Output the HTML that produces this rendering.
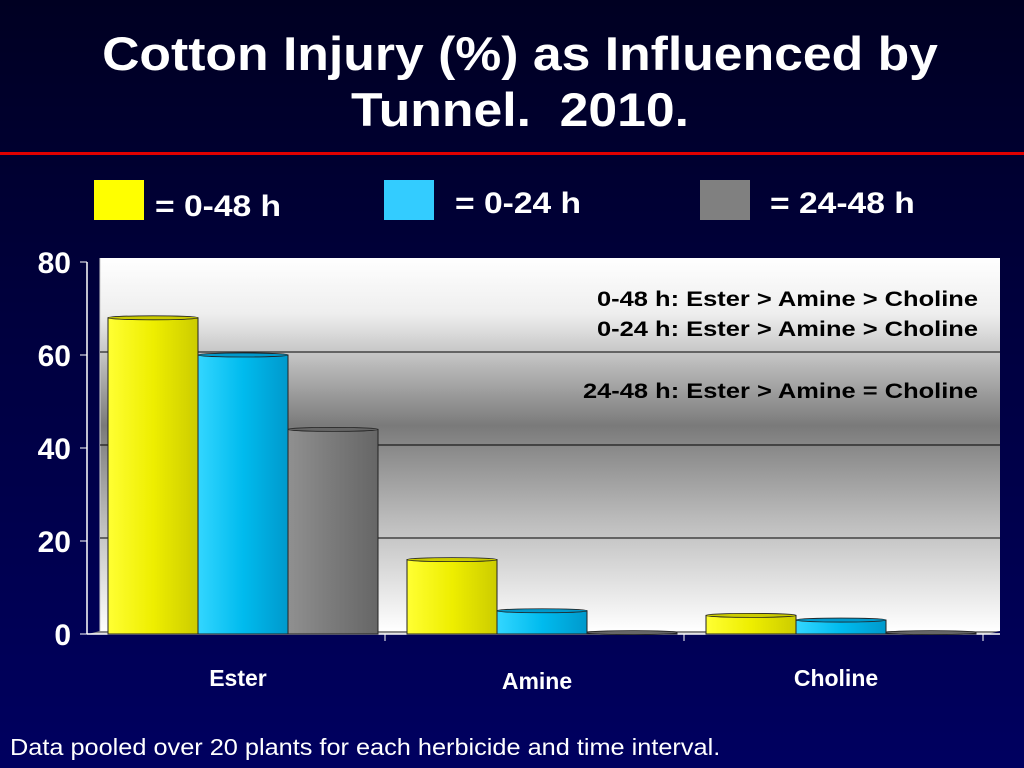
<!DOCTYPE html>
<html><head><meta charset="utf-8">
<style>
body{margin:0;width:1024px;height:768px;overflow:hidden;background:linear-gradient(#000022 0%,#00003d 40%,#000060 100%);font-family:"Liberation Sans",Arial,sans-serif;color:#fff;position:relative}
.title{position:absolute;left:0;width:1040px;top:26px;text-align:center;font-size:47px;font-weight:bold;line-height:56px;transform:scaleX(1.1);transform-origin:520px 0}
.red{position:absolute;left:0;top:152px;width:1024px;height:3px;background:#e00000}
.sw{position:absolute;width:50px;height:40px;top:180px}
.lt{position:absolute;font-size:30px;font-weight:bold;transform:scaleX(1.12);transform-origin:0 0;white-space:nowrap}
.foot{position:absolute;left:10px;top:734px;font-size:23px;transform:scaleX(1.1);transform-origin:0 0;white-space:nowrap}
</style></head><body>
<div class="title">Cotton Injury (%) as Influenced by<br>Tunnel.&nbsp; 2010.</div>
<div class="red"></div>
<div class="sw" style="left:94px;background:#ffff00"></div>
<div class="lt" style="left:155px;top:190px">= 0-48 h</div>
<div class="sw" style="left:384px;background:#33ccff"></div>
<div class="lt" style="left:455px;top:187px">= 0-24 h</div>
<div class="sw" style="left:700px;background:#808080"></div>
<div class="lt" style="left:770px;top:187px">= 24-48 h</div>
<svg id="chart" width="1024" height="768" style="position:absolute;left:0;top:0">
<defs>
<linearGradient id="wall" x1="0" y1="0" x2="0" y2="1">
<stop offset="0" stop-color="#ffffff"/><stop offset="0.15" stop-color="#eeeeee"/><stop offset="0.45" stop-color="#7a7a7a"/><stop offset="0.7" stop-color="#bbbbbb"/><stop offset="1" stop-color="#ffffff"/></linearGradient>
<linearGradient id="gy" x1="0" x2="1"><stop offset="0" stop-color="#ffff33"/><stop offset="0.5" stop-color="#eeee00"/><stop offset="1" stop-color="#cccc00"/></linearGradient>
<linearGradient id="gb" x1="0" x2="1"><stop offset="0" stop-color="#33d6ff"/><stop offset="0.5" stop-color="#00bbee"/><stop offset="1" stop-color="#0099cc"/></linearGradient>
<linearGradient id="gg" x1="0" x2="1"><stop offset="0" stop-color="#909090"/><stop offset="0.5" stop-color="#7a7a7a"/><stop offset="1" stop-color="#666666"/></linearGradient>
</defs>
<rect x="100" y="258" width="900" height="373" fill="url(#wall)"/>
<line x1="100" y1="258" x2="100" y2="631" stroke="#ccc"/>
<polygon points="88,634 100,631 1000,631 988,634" fill="#888"/>
<g id="grid"></g><g id="axes"></g><g id="bars"></g>
<g font-size="21" font-weight="bold" fill="#000">
<text x="597" y="306" textLength="381" lengthAdjust="spacingAndGlyphs">0-48 h: Ester &gt; Amine &gt; Choline</text>
<text x="597" y="336" textLength="381" lengthAdjust="spacingAndGlyphs">0-24 h: Ester &gt; Amine &gt; Choline</text>
<text x="583" y="398" textLength="395" lengthAdjust="spacingAndGlyphs">24-48 h: Ester &gt; Amine = Choline</text>
</g>
</svg>
<div class="foot">Data pooled over 20 plants for each herbicide and time interval.</div>
<script>
const categories=["Ester","Amine","Choline"];
const series0_48=[68,16,4];
const series0_24=[60,5,3];
const series24_48=[44,0.3,0.3];
const yTicks=[0,20,40,60,80];
const y=v=>634-v*(372/80);
const ns="http://www.w3.org/2000/svg";
function mk(t,a,p){const e=document.createElementNS(ns,t);for(const k in a)e.setAttribute(k,a[k]);p.appendChild(e);return e;}
const grid=document.getElementById('grid'),axes=document.getElementById('axes'),bars=document.getElementById('bars');
mk('line',{x1:87,y1:y(80),x2:87,y2:634,stroke:'#fff','stroke-width':1.5},axes);
mk('line',{x1:87,y1:634,x2:1000,y2:634,stroke:'#fff','stroke-width':1.5},axes);
yTicks.forEach(v=>{
 if(v>0&&v<80){const g=mk('line',{x1:100,y1:y(v)-3,x2:1000,y2:y(v)-3,stroke:'#000','stroke-width':1},grid);
 }
 mk('line',{x1:80,y1:y(v),x2:87,y2:y(v),stroke:'#fff'},axes);
 const t=mk('text',{x:71,y:y(v)+11,'text-anchor':'end','font-size':30,'font-weight':'bold',fill:'#fff'},axes);
 t.textContent=v;
 
 
});
const groupW=299,barW=90,x0=108;
const sets=[[series0_48,'url(#gy)','#cccc00','h0-48'],[series0_24,'url(#gb)','#0099cc','h0-24'],[series24_48,'url(#gg)','#666','h24-48']];
categories.forEach((c,i)=>{
 const gx=x0+i*groupW;
 mk('line',{x1:gx+groupW-22,y1:634,x2:gx+groupW-22,y2:641,stroke:'#fff'},axes);
 sets.forEach((s,j)=>{
  const bx=gx+j*barW,top=y(s[0][i]);
  const r=mk('rect',{x:bx,y:top,width:barW,height:634-top,fill:s[1],stroke:'#222','stroke-width':1},bars);
  
  
  mk('ellipse',{cx:bx+barW/2,cy:top,rx:barW/2,ry:2,fill:s[2],stroke:'#222','stroke-width':0.8},bars);
 });
 const l=mk('text',{x:gx+130,y:i==1?689:686,'text-anchor':'middle','font-size':23,'font-weight':'bold',fill:'#fff'},axes);
 l.textContent=c;
 
 
});
</script>
</body></html>
